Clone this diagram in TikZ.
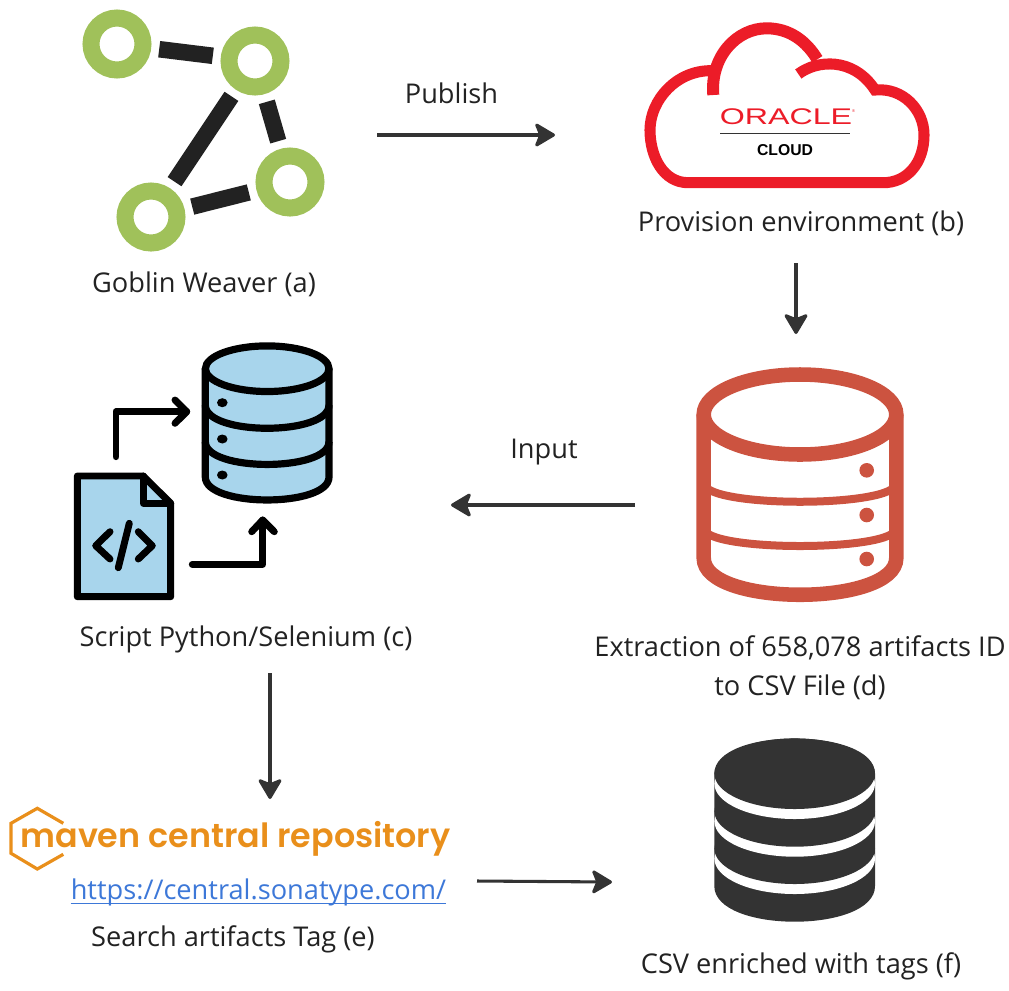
\documentclass[tikz,border=0pt]{standalone}
\usepackage{fontspec}
\setmainfont{Open Sans}
\newfontfamily\logofont{Liberation Sans}
\newfontfamily\mavenfont{Poppins SemiBold}
\usetikzlibrary{arrows.meta}
\definecolor{textgray}{HTML}{222222}
\definecolor{arrowgray}{HTML}{333333}
\definecolor{goblingreen}{HTML}{A0C15A}
\definecolor{oraclered}{HTML}{EC1C28}
\definecolor{dbred}{HTML}{CC5340}
\definecolor{dbblue}{HTML}{A8D5EC}
\definecolor{mavenorange}{HTML}{E98F1B}
\definecolor{urlblue}{HTML}{3D78D8}
\tikzstyle{arrow} = [line width=2.3pt,-{Stealth[length=17pt,width=20pt,inset=4pt,round]},arrowgray]
\tikzstyle{label} = [font=\fontsize{20.4}{29.25}\selectfont,text=textgray,anchor=base,inner sep=0pt]
\tikzstyle{goblinnode} = [circle,draw=goblingreen,fill=white,line width=12.75pt,minimum size=39pt,inner sep=0pt]
\tikzstyle{goblinedge} = [line width=12.4pt,textgray,shorten <=6pt,shorten >=6pt]
\tikzstyle{blueicon} = [line width=5.2pt,line cap=round,line join=round]

\begin{document}
\begin{tikzpicture}[x=0.75pt,y=-0.75pt]
\useasboundingbox (0,0) rectangle (1009,990);

% goblin weaver
\node[goblinnode] (gnodeA) at (117,44) {};
\node[goblinnode] (gnodeB) at (255,61) {};
\node[goblinnode] (gnodeC) at (290,182) {};
\node[goblinnode] (gnodeD) at (151,217) {};
\draw[goblinedge] (gnodeA) -- (gnodeB);
\draw[goblinedge] (gnodeB) -- (gnodeD);
\draw[goblinedge] (gnodeB) -- (gnodeC);
\draw[goblinedge] (gnodeD) -- (gnodeC);
\node[label] (goblin) at (204,292) {Goblin Weaver (a)};

% oracle cloud
\draw[oraclered,line width=8.3pt] (798.3,74) .. controls (816.7,60) and (853.3,56.7) .. (875,90) .. controls (903.3,87.3) and (924,110) .. (924,135) .. controls (924,163.3) and (906.7,182.7) .. (883.3,182.7) -- (688.3,182.7) .. controls (663.3,182.7) and (650,156.7) .. (650,130) .. controls (650,100) and (676.7,70) .. (711.7,70.7);
\draw[oraclered,line width=9pt] (713.3,95) .. controls (710,56.7) and (736.7,28.3) .. (766.7,28.3) .. controls (790,28.3) and (806.7,41.7) .. (817.3,59.3);
\node[font=\logofont\fontsize{17}{17}\selectfont,text=oraclered,inner sep=0pt] (oracle) at (786,116.5) {\scalebox{1.42}[1]{ORACLE}\rlap{\raisebox{9pt}{\fontsize{3}{3}\selectfont ®}}};
\coordinate (ruleL) at (720,133.5);
\coordinate (ruleR) at (850,133.5);
\draw[arrowgray,line width=1pt] (ruleL) -- (ruleR);
\node[font=\logofont\bfseries\fontsize{11.8}{12}\selectfont,inner sep=0pt] (cloud) at (785,150) {CLOUD};
\node[label] (provision) at (801,231) {Provision environment (b)};

% python script and database
\fill[dbblue] (205.3,368.7) -- (205.3,478) .. controls (205.3,508) and (329,508) .. (329,478) -- (329,368.7) .. controls (329,338) and (205.3,338) .. (205.3,368.7);
\draw[line width=5.4pt] (267.2,368.7) ellipse (61.8 and 22.8);
\draw[line width=5.4pt] (205.3,368.7) -- (205.3,477) .. controls (205.3,507.6) and (329,507.6) .. (329,477) -- (329,368.7);
\draw[line width=5.4pt] (205.3,405) .. controls (205.3,436) and (329,436) .. (329,405);
\draw[line width=5.4pt] (205.3,441.7) .. controls (205.3,472) and (329,472) .. (329,441.7);
\fill (222.3,402.7) ellipse (5.3 and 4.5);
\fill (222.3,439) ellipse (5.3 and 4.5);
\fill (222.3,475) ellipse (5.3 and 4.5);
\draw[blueicon,fill=dbblue] (77.3,476) -- (143.3,476) -- (170.7,503.3) -- (170.7,596.7) -- (77.3,596.7) -- cycle;
\draw[blueicon] (143.3,476) -- (143.3,503.3) -- (170.7,503.3);
\draw[blueicon] (110,531.7) -- (95.7,545.7) -- (110,559);
\draw[blueicon] (138.3,531.7) -- (152.3,545.7) -- (138.3,559);
\draw[blueicon] (129.3,523.3) -- (118.3,567.7);
\draw[blueicon] (116,456.7) -- (116,411.7) -- (186.7,411.7);
\draw[blueicon] (175,400) -- (186.7,411.7) -- (175,423.3);
\draw[blueicon] (192.3,564.3) -- (262.7,564.3) -- (262.7,520);
\draw[blueicon] (251.7,531.7) -- (262.7,520) -- (274.3,531.7);
\node[label] (script) at (246,646) {Script Python/Selenium (c)};

% extraction database
\draw[dbred,line width=10.9pt] (800,414.5) ellipse (96.3 and 40);
\draw[dbred,line width=10.9pt] (703.7,414.5) -- (703.7,558) .. controls (703.7,607) and (896.3,607) .. (896.3,558) -- (896.3,414.5);
\draw[dbred,line width=6pt] (703.7,483) .. controls (703.7,508) and (896.3,508) .. (896.3,483);
\draw[dbred,line width=6pt] (703.7,528) .. controls (703.7,552) and (896.3,552) .. (896.3,528);
\fill[dbred] (866.7,470.3) circle (7.3);
\fill[dbred] (866.7,515) circle (7.3);
\fill[dbred] (866.7,559) circle (7.3);
\node[label,align=center] (extraction) at (800,695) {Extraction of 658,078 artifacts ID\\to CSV File (d)};

% maven
\draw[mavenorange,line width=2.4pt] (63.3,823.3) -- (37.3,808.3) -- (11,823.3) -- (11,853.3) -- (37.3,869) -- (63.3,854.3);
\node[font=\mavenfont\fontsize{25}{25}\selectfont,text=mavenorange,anchor=base,inner sep=0pt] (maven) at (235.5,847) {maven central repository};
\node[label,text=urlblue] (url) at (258.5,899) {https://central.sonatype.com/};
\draw[urlblue,line width=0.9pt] ([yshift=-3.3pt]url.base west) -- ([yshift=-3.3pt]url.base east);
\node[label] (search) at (233,946) {Search artifacts Tag (e)};

% enriched csv
\fill[arrowgray] (714.3,773.7) -- (714.3,886) .. controls (714.3,933.6) and (875,933.6) .. (875,886) -- (875,773.7) .. controls (875,726.7) and (714.3,726.7) .. (714.3,773.7);
\fill[white] (794.7,858.7) ellipse (80.3 and 35.3);
\fill[arrowgray] (794.7,848.7) ellipse (80.3 and 35.3);
\fill[white] (794.7,821.4) ellipse (80.3 and 35.3);
\fill[arrowgray] (794.7,811.4) ellipse (80.3 and 35.3);
\fill[white] (794.7,783.7) ellipse (80.3 and 35.3);
\fill[arrowgray] (794.7,773.7) ellipse (80.3 and 35.3);
\node[label] (enriched) at (801,973) {CSV enriched with tags (f)};

% flow arrows
\coordinate (publishA) at (377,135);
\coordinate (publishB) at (555,135);
\coordinate (provisionA) at (796,263);
\coordinate (provisionB) at (796,334);
\coordinate (inputA) at (635,505);
\coordinate (inputB) at (451,505);
\coordinate (scriptA) at (270,673);
\coordinate (scriptB) at (270,799);
\coordinate (searchA) at (477,881);
\coordinate (searchB) at (612,882);
\draw[arrow] (publishA) -- (publishB);
\draw[arrow] (provisionA) -- (provisionB);
\draw[arrow] (inputA) -- (inputB);
\draw[arrow] (scriptA) -- (scriptB);
\draw[arrow] (searchA) -- (searchB);
\node[label] (publish) at (451.5,103) {Publish};
\node[label] (input) at (544,458) {Input};
\end{tikzpicture}
\end{document}
